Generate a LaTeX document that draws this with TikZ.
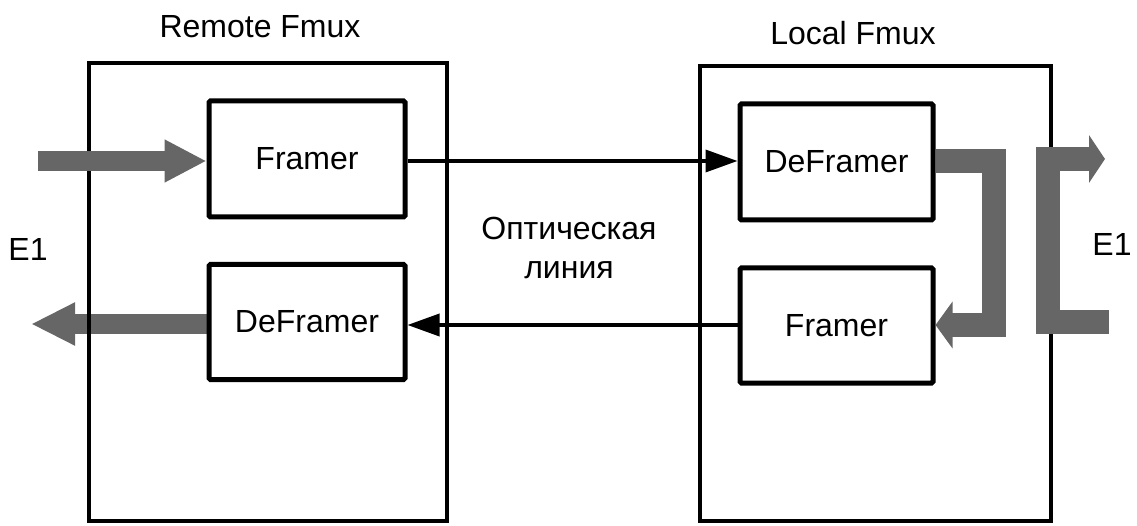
\documentclass[tikz,border=0pt]{standalone}
\usepackage{fontspec}
\setmainfont{Liberation Sans}
\usetikzlibrary{arrows.meta,backgrounds}
\definecolor{fatgray}{HTML}{666666}
\begin{document}
\begin{tikzpicture}[x=1pt,y=-1pt,
  outerbox/.style={draw,line width=4.5pt,inner sep=0pt},
  innerbox/.style={draw,line width=5pt,rounded corners=1.5pt,inner sep=0pt,
    font=\fontsize{32}{38}\selectfont},
  lbl/.style={inner sep=0pt,font=\fontsize{32}{39}\selectfont,align=center},
  thin/.style={line width=3.6pt,-{Triangle[length=32pt,width=22pt]}},
  fat/.style={draw=fatgray,line width=#1,line join=miter}]
\useasboundingbox (0,0) rectangle (1137,526);
% outer boxes
\node[outerbox,minimum width=358pt,minimum height=458pt] (remote) at (268,292) {};
\node[outerbox,minimum width=351pt,minimum height=455pt] (local) at (875.5,293.5) {};
% titles
\node[lbl,anchor=base] (tr) at (260,38) {Remote Fmux};
\node[lbl,anchor=base] (tl) at (853,45) {Local Fmux};
% inner boxes
\node[innerbox,minimum width=196pt,minimum height=116pt] (rf) at (307,159) {Framer};
\node[innerbox,minimum width=196pt,minimum height=115pt] (rd) at (307,322) {DeFramer};
\node[innerbox,minimum width=193pt,minimum height=116pt] (ld) at (836.5,162) {DeFramer};
\node[innerbox,minimum width=193pt,minimum height=115pt] (lf) at (836.5,325.5) {Framer};
% labels
\node[lbl,anchor=base] (opt) at (569,240) {Оптическая};
\node[lbl,anchor=base] (lin) at (569,279) {линия};
\node[lbl,anchor=base] (e1l) at (28,261) {E1};
\node[lbl,anchor=base] (e1r) at (1112,256) {E1};
% optical links
\draw[thin] (rf.east |- 0,161) -- (ld.west |- 0,161);
\draw[thin] (lf.west |- 0,325) -- (rd.east |- 0,325);
% left E1 arrows
\coordinate (lin1) at (38,161);
\coordinate (lout1) at (31,324);
\draw[fat=20pt,-{Triangle[length=42pt,width=40pt]}] (lin1) -- (rf.west |- lin1);
\begin{pgfonlayer}{background}
\draw[fat=20pt,-{Triangle[length=44pt,width=40pt]}] (rd.west |- lout1) -- (lout1);
\end{pgfonlayer}
% right E1 paths
\coordinate (ru1) at (994,161);
\coordinate (ru2) at (994,325);
\draw[fat=24pt,-{Triangle[length=17pt,width=46pt]}] (ld.east |- ru1) -- (ru1) -- (ru2) -- (lf.east |- ru2);
\coordinate (rb1) at (1109,322);
\coordinate (rb2) at (1048,322);
\coordinate (rb3) at (1048,159);
\coordinate (rb4) at (1105,159);
\draw[fat=24pt,-{Triangle[length=16pt,width=47pt]}] (rb1) -- (rb2) -- (rb3) -- (rb4);
\end{tikzpicture}
\end{document}
